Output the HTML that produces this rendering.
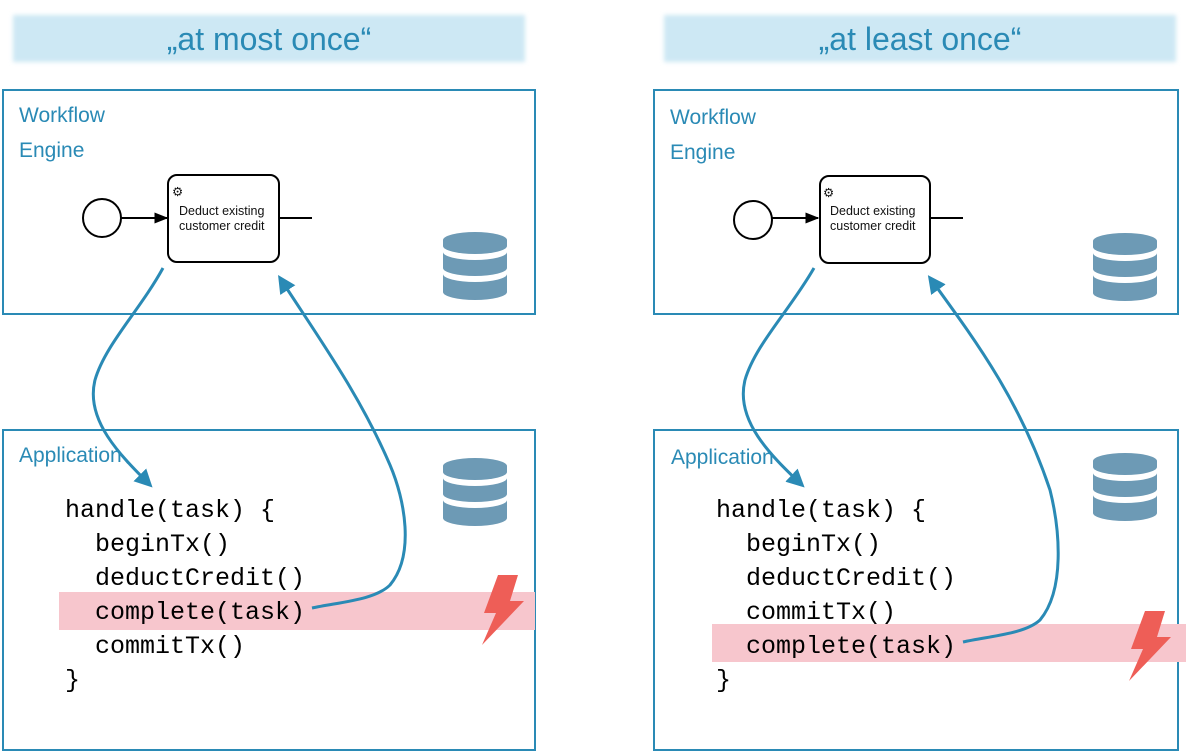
<!DOCTYPE html>
<html><head><style>
html,body{margin:0;padding:0;background:#fff;}
svg{display:block;}
.h{font-family:"Liberation Sans",sans-serif;fill:#2a8ab5;}
.c{font-family:"Liberation Mono",monospace;font-size:25px;fill:#000;}
.t{font-family:"Liberation Sans",sans-serif;font-size:12.5px;fill:#111;}
</style></head><body>
<svg width="1190" height="752" viewBox="0 0 1190 752" xmlns="http://www.w3.org/2000/svg">
<defs>
<filter id="bl"><feGaussianBlur stdDeviation="2"/></filter>
<marker id="ar" viewBox="0 0 10 10" refX="8" refY="5" markerWidth="6" markerHeight="6" orient="auto"><path d="M0,0 L10,5 L0,10 z" fill="#2a8ab5"/></marker>
<marker id="bk" viewBox="0 0 10 10" refX="9" refY="5" markerWidth="7" markerHeight="7" orient="auto"><path d="M0,1 L10,5 L0,9 z" fill="#000"/></marker>
<g id="db">
<path d="M0,8 A32,8 0 0 1 64,8 L64,14 A32,8 0 0 1 0,14 Z" fill="#6d9ab5"/>
<path d="M0,20 A32,8 0 0 0 64,20 L64,36 A32,8 0 0 1 0,36 Z" fill="#6d9ab5"/>
<path d="M0,42 A32,8 0 0 0 64,42 L64,60 A32,8 0 0 1 0,60 Z" fill="#6d9ab5"/>
</g>
<g id="bolt"><path d="M16,0 L36,0 L28,26 L42,26 L0,70 L14,38 L2,38 Z" fill="#ee5e57"/></g>
</defs>

<rect x="13" y="15" width="512" height="47" fill="#cde8f4" filter="url(#bl)"/>
<rect x="664" y="15" width="512" height="47" fill="#cde8f4" filter="url(#bl)"/>
<text class="h" x="269" y="50" font-size="32" text-anchor="middle">„at most once“</text>
<text class="h" x="920" y="50" font-size="32" text-anchor="middle">„at least once“</text>

<!-- LEFT -->
<rect x="3" y="90" width="532" height="224" fill="none" stroke="#2a8ab5" stroke-width="2"/>
<text class="h" x="19" y="122" font-size="21">Workflow</text>
<text class="h" x="19" y="157" font-size="21">Engine</text>
<circle cx="102" cy="218" r="19" fill="#fff" stroke="#000" stroke-width="2"/>
<line x1="121" y1="218" x2="167" y2="218" stroke="#000" stroke-width="2" marker-end="url(#bk)"/>
<rect x="168" y="175" width="111" height="87" rx="9" fill="#fff" stroke="#000" stroke-width="2"/>
<text class="t" x="172" y="196" font-size="19">⚙</text>
<text class="t" x="179" y="215">Deduct existing</text>
<text class="t" x="179" y="230">customer credit</text>
<line x1="279" y1="218" x2="312" y2="218" stroke="#000" stroke-width="2"/>
<use href="#db" x="443" y="232"/>

<rect x="3" y="430" width="532" height="320" fill="none" stroke="#2a8ab5" stroke-width="2"/>
<rect x="59" y="592" width="476" height="38" fill="#f7c6cd"/>
<text class="h" x="19" y="462" font-size="21">Application</text>
<use href="#db" x="443" y="458"/>
<use href="#bolt" x="482" y="575"/>
<text class="c" x="65" y="517">handle(task) {</text>
<text class="c" x="95" y="551">beginTx()</text>
<text class="c" x="95" y="585">deductCredit()</text>
<text class="c" x="95" y="619">complete(task)</text>
<text class="c" x="95" y="653">commitTx()</text>
<text class="c" x="65" y="687">}</text>
<path d="M163,268 C140,310 105,345 95,380 C85,420 120,455 150,485" fill="none" stroke="#2a8ab5" stroke-width="3" marker-end="url(#ar)"/>
<path d="M312,608 C340,602 375,600 390,585 C415,555 405,500 390,465 C360,395 320,340 280,278" fill="none" stroke="#2a8ab5" stroke-width="3" marker-end="url(#ar)"/>

<!-- RIGHT -->
<rect x="654" y="90" width="524" height="224" fill="none" stroke="#2a8ab5" stroke-width="2"/>
<text class="h" x="670" y="124" font-size="21">Workflow</text>
<text class="h" x="670" y="159" font-size="21">Engine</text>
<circle cx="753" cy="220" r="19" fill="#fff" stroke="#000" stroke-width="2"/>
<line x1="772" y1="218" x2="818" y2="218" stroke="#000" stroke-width="2" marker-end="url(#bk)"/>
<rect x="820" y="176" width="110" height="87" rx="9" fill="#fff" stroke="#000" stroke-width="2"/>
<text class="t" x="823" y="197" font-size="19">⚙</text>
<text class="t" x="830" y="215">Deduct existing</text>
<text class="t" x="830" y="230">customer credit</text>
<line x1="930" y1="218" x2="963" y2="218" stroke="#000" stroke-width="2"/>
<use href="#db" x="1093" y="233"/>

<rect x="654" y="430" width="524" height="320" fill="none" stroke="#2a8ab5" stroke-width="2"/>
<rect x="712" y="624" width="474" height="38" fill="#f7c6cd"/>
<text class="h" x="671" y="464" font-size="21">Application</text>
<use href="#db" x="1093" y="453"/>
<use href="#bolt" x="1129" y="611"/>
<text class="c" x="716" y="517">handle(task) {</text>
<text class="c" x="746" y="551">beginTx()</text>
<text class="c" x="746" y="585">deductCredit()</text>
<text class="c" x="746" y="619">commitTx()</text>
<text class="c" x="746" y="653">complete(task)</text>
<text class="c" x="716" y="687">}</text>
<path d="M814,268 C790,310 755,345 745,380 C735,420 770,455 802,485" fill="none" stroke="#2a8ab5" stroke-width="3" marker-end="url(#ar)"/>
<path d="M963,642 C990,636 1025,634 1040,620 C1065,590 1060,530 1050,490 C1020,400 975,340 930,278" fill="none" stroke="#2a8ab5" stroke-width="3" marker-end="url(#ar)"/>
</svg>
</body></html>
